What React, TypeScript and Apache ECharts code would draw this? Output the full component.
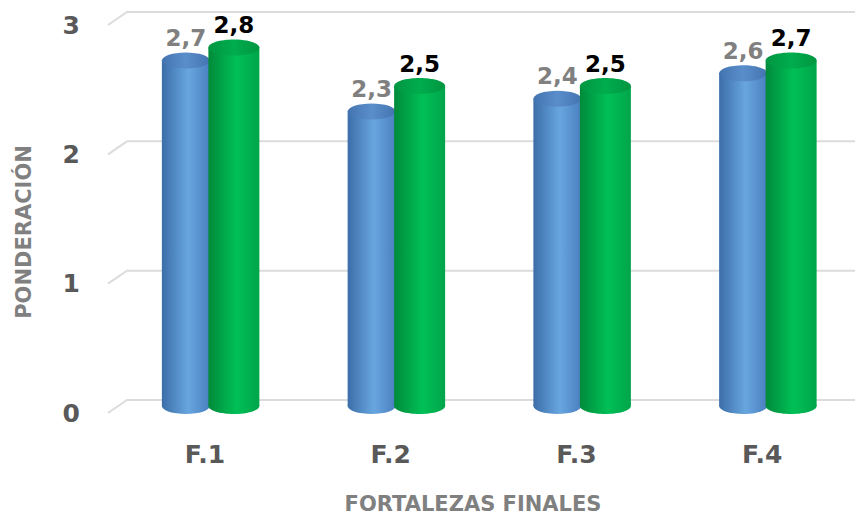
import React, { useEffect, useRef } from 'react';
import * as echarts from 'echarts';

const categories = ['F.1', 'F.2', 'F.3', 'F.4'];
const blueValues = [2.7, 2.3, 2.4, 2.6];
const greenValues = [2.8, 2.5, 2.5, 2.7];
const yTicks = [0, 1, 2, 3];
const yTitle = 'PONDERACIÓN';
const xTitle = 'FORTALEZAS FINALES';

const NUM_FONT = '"DejaVu Sans", "Open Sans", sans-serif';

export default function App() {
  const ref = useRef<HTMLDivElement>(null);
  useEffect(() => {
    const chart = echarts.init(ref.current!, null, { renderer: 'svg' });
    const fmt = (v: number) => v.toFixed(1).replace('.', ',');

    const makeCyl = (
      offset: number,
      width: number,
      bodyStops: string[],
      topStops: string[],
      labelColor: string
    ) => (params: any, api: any) => {
      const ci = api.value(0);
      const v = api.value(1);
      const [cx, yTop] = api.coord([ci, v]);
      const [, yBot] = api.coord([ci, 0]);
      const x = cx + offset;
      const rx = width / 2;
      const ry = 8;
      const body = () =>
        new echarts.graphic.LinearGradient(0, 0, 1, 0, [
          { offset: 0, color: bodyStops[0] },
          { offset: 0.55, color: bodyStops[1] },
          { offset: 1, color: bodyStops[2] },
        ]);
      const top = new echarts.graphic.LinearGradient(0, 0, 1, 0, [
        { offset: 0, color: topStops[0] },
        { offset: 0.5, color: topStops[1] },
        { offset: 1, color: topStops[0] },
      ]);
      return {
        type: 'group',
        children: [
          { type: 'ellipse', shape: { cx: x, cy: yBot, rx, ry }, style: { fill: body() } },
          { type: 'rect', shape: { x: x - rx, y: yTop, width, height: yBot - yTop }, style: { fill: body() } },
          { type: 'ellipse', shape: { cx: x, cy: yTop, rx, ry }, style: { fill: top } },
          {
            type: 'text',
            style: {
              text: fmt(v),
              x,
              y: yTop - ry - 3,
              align: 'center',
              verticalAlign: 'bottom',
              fontFamily: NUM_FONT,
              fontWeight: 'bold',
              fontSize: 23,
              fill: labelColor,
            },
          },
        ],
      };
    };

    const gridRender = (params: any, api: any) => {
      const v = api.value(1);
      const [, y] = api.coord([0, v]);
      const cs = params.coordSys;
      return {
        type: 'polyline',
        shape: { points: [[108, y], [127, y - 13], [cs.x + cs.width, y - 13]] },
        style: { stroke: '#dcdcdc', lineWidth: 2, fill: 'none' },
      };
    };

    chart.setOption({
      animation: false,
      backgroundColor: '#ffffff',
      grid: [
        { left: 112, width: 743, top: 25, height: 388 },
        { left: 112, width: 743, top: 22, height: 384 },
      ],
      xAxis: [
        { type: 'category', data: categories, gridIndex: 0, show: false },
        {
          type: 'category',
          data: categories,
          gridIndex: 1,
          axisLine: { show: false },
          axisTick: { show: false },
          axisLabel: {
            margin: 36,
            color: '#595959',
            fontFamily: NUM_FONT,
            fontWeight: 'bold',
            fontSize: 25,
          },
        },
      ],
      yAxis: [
        {
          type: 'value',
          gridIndex: 0,
          min: 0,
          max: 3,
          interval: 1,
          axisLine: { show: false },
          axisTick: { show: false },
          splitLine: { show: false },
          axisLabel: {
            margin: 32,
            color: '#595959',
            fontFamily: NUM_FONT,
            fontWeight: 'bold',
            fontSize: 25,
          },
        },
        { type: 'value', gridIndex: 1, min: 0, max: 3, interval: 1, show: false },
      ],
      graphic: [
        {
          type: 'text',
          x: 24,
          y: 232,
          rotation: Math.PI / 2,
          style: {
            text: yTitle,
            align: 'center',
            verticalAlign: 'middle',
            fontFamily: NUM_FONT,
            fontWeight: 'bold',
            fontSize: 21,
            fill: '#808080',
          },
        },
        {
          type: 'text',
          x: 473,
          y: 504,
          style: {
            text: xTitle,
            align: 'center',
            verticalAlign: 'middle',
            fontFamily: NUM_FONT,
            fontWeight: 'bold',
            fontSize: 21,
            fill: '#808080',
          },
        },
      ],
      series: [
        {
          type: 'custom',
          xAxisIndex: 0,
          yAxisIndex: 0,
          data: yTicks.map((t) => [0, t]),
          renderItem: gridRender,
          silent: true,
        },
        {
          type: 'custom',
          name: 'Serie 1',
          xAxisIndex: 1,
          yAxisIndex: 1,
          data: blueValues.map((v, i) => [i, v]),
          renderItem: makeCyl(-19, 48, ['#3c6ea8', '#68a6e0', '#4a7fbf'], ['#4374b0', '#5a8ecb'], '#808080'),
        },
        {
          type: 'custom',
          name: 'Serie 2',
          xAxisIndex: 1,
          yAxisIndex: 1,
          data: greenValues.map((v, i) => [i, v]),
          renderItem: makeCyl(29, 51, ['#008a3a', '#00c056', '#00a54a'], ['#009641', '#00ad4d'], '#000000'),
        },
      ],
    });
    return () => chart.dispose();
  }, []);
  return (
    <div
      ref={ref}
      style={{ position: 'fixed', left: 0, top: 0, width: 855, height: 518 }}
    />
  );
}
